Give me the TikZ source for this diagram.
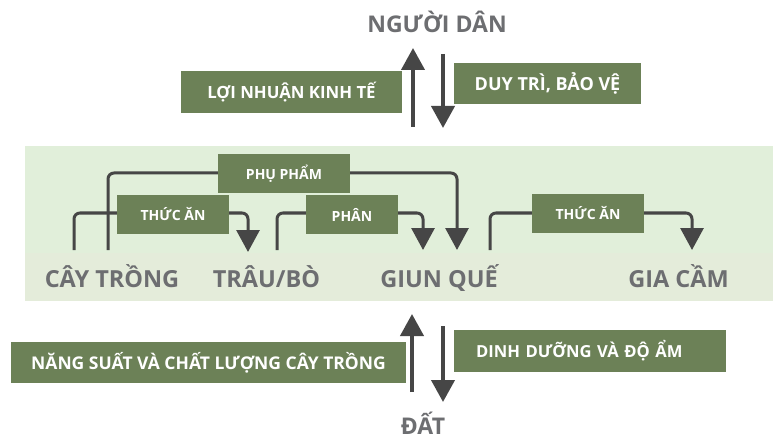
\documentclass[tikz,border=0pt]{standalone}
\usepackage{fontspec}
\setmainfont{Open Sans}
\usetikzlibrary{arrows.meta}
\definecolor{leaf}{HTML}{6C8157}
\definecolor{band}{HTML}{E1EFDA}
\definecolor{bandlow}{HTML}{E4ECDA}
\definecolor{ink}{HTML}{6D6E71}
\definecolor{wire}{HTML}{464646}
\tikzset{
  tag/.style={fill=leaf,text=white,inner sep=0pt,font=\bfseries\fontsize{18}{20}\selectfont},
  smalltag/.style={tag,font=\bfseries\fontsize{14}{16}\selectfont,minimum height=39pt},
  actor/.style={text=ink,inner sep=0pt,anchor=base,font=\bfseries\fontsize{23.5}{28}\selectfont},
  wire/.style={draw=wire,line width=3pt,rounded corners=6pt},
  flow/.style={wire,-{Triangle[width=23pt,length=22pt]}},
  bigflow/.style={draw=wire,line width=4pt,-{Triangle[width=23pt,length=22pt]}},
}

\begin{document}
\begin{tikzpicture}[x=1pt,y=-1pt]
\useasboundingbox[fill=white] (0,0) rectangle (775,438);
\fill[band] (25,146) rectangle (773,253); \fill[bandlow] (25,253) rectangle (773,301);

% outside actors
\node[actor,font=\bfseries\fontsize{23}{28}\selectfont] (people) at (437,33) {NGƯỜI DÂN};
\node[actor,font=\bfseries\fontsize{23}{28}\selectfont] (soil) at (423,434) {ĐẤT};
\node[tag,minimum width=221pt,minimum height=42pt,font=\bfseries\fontsize{16.8}{20}\selectfont] (profit) at (291.5,92) {LỢI NHUẬN KINH TẾ};
\node[tag,minimum width=187pt,minimum height=41pt] (care) at (547.5,83.5) {DUY TRÌ, BẢO VỆ};
\node[tag,minimum width=395pt,minimum height=41pt,font=\bfseries\fontsize{17.5}{20}\selectfont] (yield) at (208.5,362.5) {NĂNG SUẤT VÀ CHẤT LƯỢNG CÂY TRỒNG};
\node[tag,minimum width=272pt,minimum height=42pt,text width=228pt,align=left,font=\bfseries\fontsize{16.6}{20}\selectfont] (nutri) at (590,351) {DINH DƯỠNG VÀ ĐỘ ẨM};

% farm members
\node[actor] (crop) at (112,287) {CÂY TRỒNG};
\node[actor] (cattle) at (266.5,287) {TRÂU/BÒ};
\node[actor] (worm) at (439,287) {GIUN QUẾ};
\node[actor] (poultry) at (678.5,287) {GIA CẦM};

\coordinate (cropA) at (74,250); \coordinate (cropB) at (108,250);
\coordinate (cattleIn) at (248,252); \coordinate (cattleOut) at (277,250);
\coordinate (wormInA) at (423,250); \coordinate (wormInB) at (457,250);
\coordinate (wormOut) at (490,250); \coordinate (poultryIn) at (692,250);

\draw[wire] (cropA) |- (173,213) coordinate (feedAw);
\draw[wire] (cropB) |- (284,173) coordinate (byprodw);
\draw[wire] (cattleOut) |- (352,213) coordinate (dungw);
\draw[wire] (wormOut) |- (588,213) coordinate (feedBw);
\draw[flow] (feedAw) -| (cattleIn);
\draw[flow] (byprodw) -| (wormInB);
\draw[flow] (dungw) -| (wormInA);
\draw[flow] (feedBw) -| (poultryIn);

\node[smalltag,minimum width=132pt] (byprod) at (284,173.5) {PHỤ PHẨM};
\node[smalltag,minimum width=112pt] (feedA) at (173,214.5) {THỨC ĂN};
\node[smalltag,minimum width=92pt] (dung) at (352,214.5) {PHÂN};
\node[smalltag,minimum width=112pt] (feedB) at (588,213.5) {THỨC ĂN};

% up and down flows
\coordinate (upTop) at (413,48); \coordinate (upTopS) at (413,127);
\coordinate (downTop) at (443,54); \coordinate (downTopE) at (443,128);
\coordinate (upLow) at (412,392); \coordinate (upLowE) at (412,314);
\coordinate (downLow) at (443,326); \coordinate (downLowE) at (443,402);
\draw[bigflow] (upTopS) -- (upTop); \draw[bigflow] (downTop) -- (downTopE);
\draw[bigflow] (upLow) -- (upLowE); \draw[bigflow] (downLow) -- (downLowE);
\end{tikzpicture}
\end{document}
